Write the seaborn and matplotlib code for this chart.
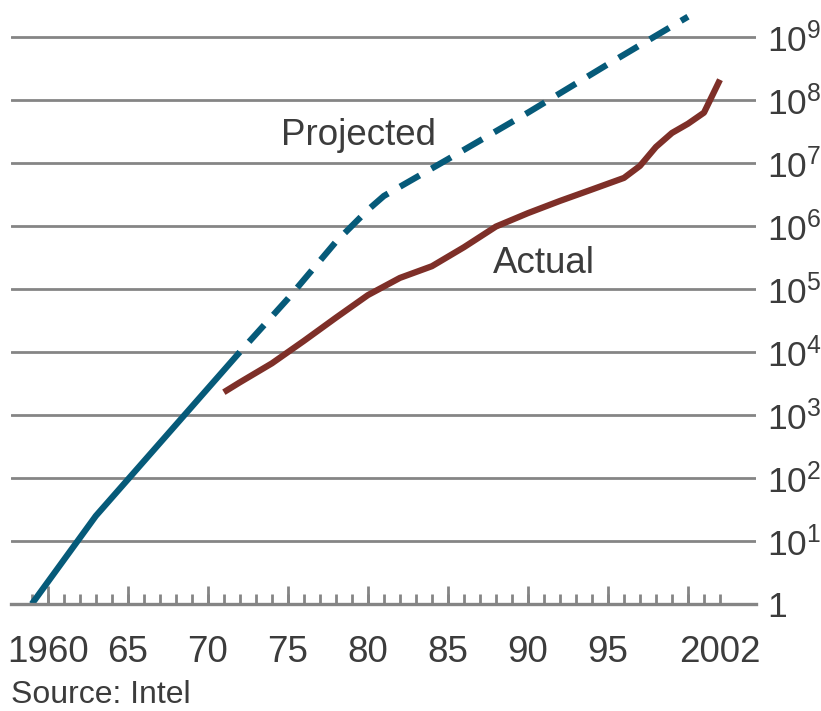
import matplotlib
matplotlib.use("Agg")
import matplotlib.pyplot as plt
import matplotlib.ticker as mticker
import pandas as pd
import seaborn as sns

# Moore's law: projected vs actual transistors per chip
proj_years = [1959, 1963, 1972, 1975, 1978, 1980, 1981, 1982, 1985, 1990, 1995, 2000]
proj_counts = [1, 25, 1.0e4, 7.0e4, 5.6e5, 1.8e6, 3.0e6, 4.2e6, 1.15e7, 6.3e7, 3.7e8, 2.1e9]

actual_years = [1971, 1972, 1974, 1976, 1978, 1980, 1982, 1984, 1986, 1988,
                1990, 1992, 1994, 1996, 1997, 1998, 1999, 2000, 2001, 2002]
actual_counts = [2300, 3300, 6600, 1.5e4, 3.5e4, 8.0e4, 1.5e5, 2.3e5, 4.6e5, 9.8e5,
                 1.6e6, 2.5e6, 3.8e6, 5.8e6, 9.0e6, 1.8e7, 3.0e7, 4.2e7, 6.3e7, 2.1e8]

split_year = 1972  # projection drawn solid up to here, dashed afterwards

x_label_years = [1960, 1965, 1970, 1975, 1980, 1985, 1990, 1995, 2002]
x_label_text = ["1960", "65", "70", "75", "80", "85", "90", "95", "2002"]
y_exponents = list(range(0, 10))

TEAL = "#065a79"
RED = "#7e2f28"
GRID = "#858585"
TEXT = "#3c3c3c"

sns.set_theme(style="white")
plt.rcParams["font.family"] = ["Liberation Sans", "DejaVu Sans"]

proj = pd.DataFrame({"year": proj_years, "count": proj_counts})
actual = pd.DataFrame({"year": actual_years, "count": actual_counts})
proj_solid = proj[proj["year"] <= split_year]
proj_dash = proj[proj["year"] >= split_year]

fig = plt.figure(figsize=(8.21, 7.11), dpi=100)
ax = fig.add_axes([11 / 821, 107 / 711, 745 / 821, 598.5 / 711])
ax.set_yscale("log")

lw = 4.5
sns.lineplot(data=actual, x="year", y="count", ax=ax, color=RED, lw=lw,
             estimator=None, sort=False, legend=False)
sns.lineplot(data=proj_solid, x="year", y="count", ax=ax, color=TEAL, lw=lw,
             estimator=None, sort=False, legend=False)
sns.lineplot(data=proj_dash, x="year", y="count", ax=ax, color=TEAL, lw=lw,
             estimator=None, sort=False, legend=False)
dash_line = ax.get_lines()[-1]
dash_line.set_linestyle((3.6, (3.6, 2.2)))
dash_line.set_dash_capstyle("butt")
for ln in ax.get_lines()[:2]:
    ln.set_solid_capstyle("butt")
    ln.set_solid_joinstyle("round")

ax.set_xlim(1957.7, 2004.25)
ax.set_ylim(1, 10 ** 9.5)

# horizontal rules at each decade
for k in y_exponents[1:]:
    ax.axhline(10 ** k, color=GRID, lw=2.0, zorder=0)

# right-hand decade labels
ax.yaxis.tick_right()
ax.set_yticks([10 ** k for k in y_exponents])
ax.set_yticklabels(["1"] + [r"$\mathregular{10^{%d}}$" % k for k in y_exponents[1:]])
ax.yaxis.set_minor_locator(mticker.NullLocator())
ax.tick_params(axis="y", which="both", length=0, pad=8, labelsize=25.5,
               labelcolor=TEXT)

# year ticks: short every year, long every five years
label_map = dict(zip(x_label_years, x_label_text))
every_year = list(range(1959, 2003))
ax.set_xticks(every_year)
ax.set_xticklabels([label_map.get(y, "") for y in every_year])
ax.set_xticks(list(range(1960, 2001, 5)), minor=True)
ax.xaxis.remove_overlapping_locs = False
ax.tick_params(axis="x", which="major", bottom=True, direction="in", length=7,
               width=2.0, color=GRID, pad=22, labelsize=26.5, labelcolor=TEXT)
ax.tick_params(axis="x", which="minor", bottom=True, direction="in", length=13,
               width=2.0, color=GRID, labelbottom=False)

for side in ["top", "left", "right"]:
    ax.spines[side].set_visible(False)
ax.spines["bottom"].set_color(GRID)
ax.spines["bottom"].set_linewidth(2.4)
ax.set_xlabel("")
ax.set_ylabel("")
ax.grid(False)

ax.text(1974.6, 10 ** 7.29, "Projected", ha="left", va="baseline",
        fontsize=26.5, color=TEXT)
ax.text(1987.8, 10 ** 5.25, "Actual", ha="left", va="baseline",
        fontsize=26.5, color=TEXT)

fig.text(11 / 821, 8 / 711, "Source: Intel", ha="left", va="baseline",
         fontsize=23, color=TEXT)

fig.savefig("out.png", dpi=100, facecolor="white")
